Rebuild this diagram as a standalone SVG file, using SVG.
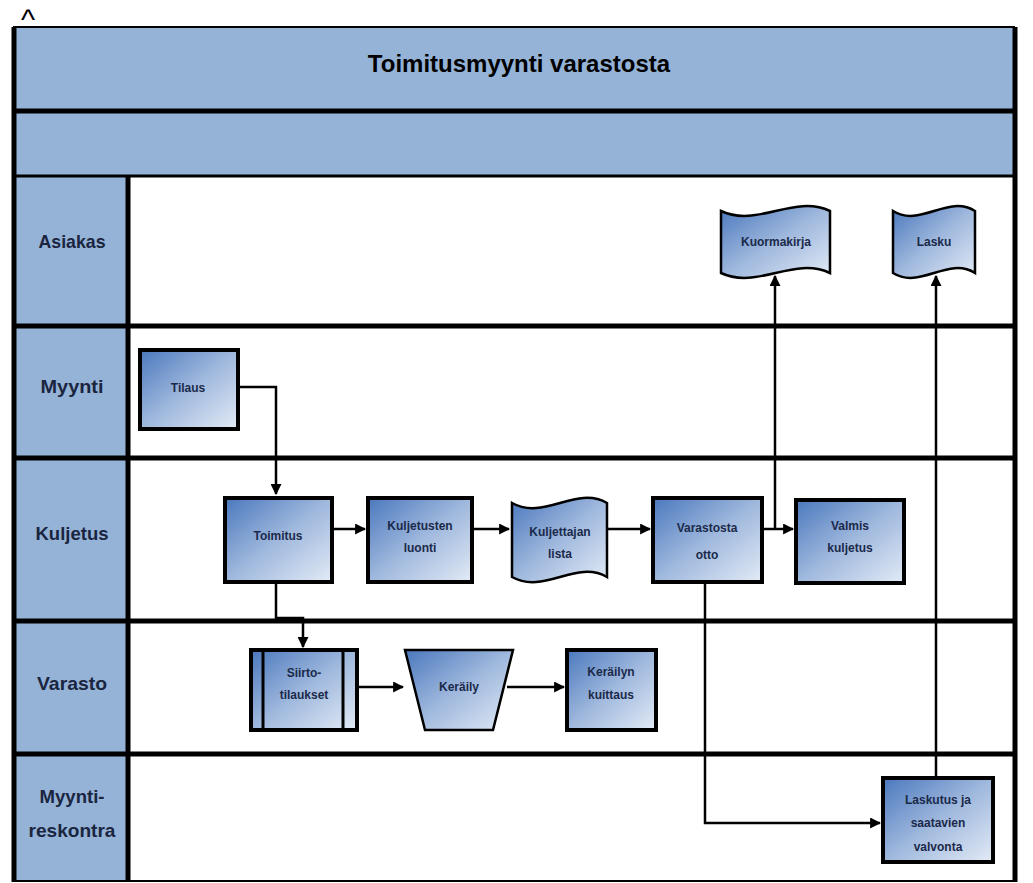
<svg xmlns="http://www.w3.org/2000/svg" width="1033" height="883" viewBox="0 0 1033 883">
<style>
.band{fill:#95b3d7}
.lane{fill:#ffffff}
.sep{stroke:#000;stroke-width:5;fill:none}
.thin{stroke:#000;stroke-width:2.5;fill:none}
.lbl{font-family:"Liberation Sans",Arial,sans-serif;font-weight:bold;font-size:19px;fill:#1a2540;text-anchor:middle}
.title{font-family:"Liberation Sans",Arial,sans-serif;font-weight:bold;font-size:24px;fill:#000;text-anchor:middle}
.node{fill:url(#ng);stroke:#000;stroke-width:4}
.doc{fill:url(#ng);stroke:#000;stroke-width:2.5}
.nt{font-family:"Liberation Sans",Arial,sans-serif;font-weight:bold;font-size:12px;fill:#1b2a4a;text-anchor:middle}
.con{stroke:#000;stroke-width:2.5;fill:none}
</style>
<defs>
<linearGradient id="ng" x1="0" y1="0" x2="1" y2="1">
<stop offset="0" stop-color="#4a78bd"/>
<stop offset="0.5" stop-color="#9fb8dd"/>
<stop offset="1" stop-color="#e3ebf6"/>
</linearGradient>
<marker id="ah" viewBox="0 0 10 10" refX="9" refY="5" markerWidth="4.4" markerHeight="4.4" orient="auto" markerUnits="strokeWidth">
<path d="M0,0 L10,5 L0,10 z" fill="#000"/>
</marker>
</defs>
<rect width="1033" height="883" fill="#ffffff"/>
<text x="28" y="30" font-family="Liberation Sans,Arial,sans-serif" font-size="30" fill="#000" text-anchor="middle">^</text>
<g id="frame">
<rect class="band" x="14" y="27" width="1001" height="83"/>
<rect class="band" x="14" y="111" width="1001" height="64"/>
<rect class="band" x="14" y="176" width="114" height="705"/>
<line x1="13" y1="27" x2="1015" y2="27" stroke="#000" stroke-width="2"/>
<line class="sep" x1="13" y1="111" x2="1015" y2="111"/>
<line x1="13" y1="176" x2="1015" y2="176" stroke="#000" stroke-width="3"/>
<line class="sep" x1="13" y1="326" x2="1015" y2="326"/>
<line class="sep" x1="13" y1="458" x2="1015" y2="458"/>
<line class="sep" x1="13" y1="621" x2="1015" y2="621"/>
<line class="sep" x1="13" y1="754" x2="1015" y2="754"/>
<line x1="13" y1="881" x2="1015" y2="881" stroke="#000" stroke-width="2"/>
<line class="sep" x1="14" y1="27" x2="14" y2="882"/>
<line class="sep" x1="128" y1="176" x2="128" y2="882"/>
<line class="sep" x1="1015" y1="27" x2="1015" y2="882"/>
</g>
<text class="title" x="519" y="72">Toimitusmyynti varastosta</text>
<g id="lanes">
<text class="lbl" x="72" y="248" textLength="67" lengthAdjust="spacingAndGlyphs">Asiakas</text>
<text class="lbl" x="72" y="393" textLength="63" lengthAdjust="spacingAndGlyphs">Myynti</text>
<text class="lbl" x="72" y="540" textLength="73" lengthAdjust="spacingAndGlyphs">Kuljetus</text>
<text class="lbl" x="72" y="690" textLength="70" lengthAdjust="spacingAndGlyphs">Varasto</text>
<text class="lbl" x="72" y="803" textLength="65" lengthAdjust="spacingAndGlyphs">Myynti-</text>
<text class="lbl" x="72" y="837" textLength="87" lengthAdjust="spacingAndGlyphs">reskontra</text>
</g>
<g id="connectors">
<path class="con" d="M238,387 H276 V494" marker-end="url(#ah)"/>
<path class="con" d="M332,529 H365" marker-end="url(#ah)"/>
<path class="con" d="M472,529 H509" marker-end="url(#ah)"/>
<path class="con" d="M607,529 H650" marker-end="url(#ah)"/>
<path class="con" d="M762,529 H793" marker-end="url(#ah)"/>
<path class="con" d="M775,529 V276" marker-end="url(#ah)"/>
<path class="con" d="M276,582 V618 H303 V647" marker-end="url(#ah)"/>
<path class="con" d="M357,687 H403" marker-end="url(#ah)"/>
<path class="con" d="M507,687 H564" marker-end="url(#ah)"/>
<path class="con" d="M705,582 V823 H880" marker-end="url(#ah)"/>
<path class="con" d="M936,778 V276" marker-end="url(#ah)"/>
</g>
<g id="tilaus">
<rect class="node" x="140" y="350" width="98" height="79"/>
<text class="nt" x="188" y="392" font-size="11">Tilaus</text>
</g>
<g id="toimitus">
<rect class="node" x="225" y="498" width="107" height="84"/>
<text class="nt" x="278" y="540" font-size="13">Toimitus</text>
</g>
<g id="kuljetusten-luonti">
<rect class="node" x="368" y="498" width="104" height="84"/>
<text class="nt" x="420" y="530">Kuljetusten</text>
<text class="nt" x="420" y="552">luonti</text>
</g>
<g id="kuljettajan-lista">
<path class="doc" d="M512,503 C544,521 576,485 607,503 V577 C576,559 544,595 512,577 Z"/>
<text class="nt" x="560" y="536">Kuljettajan</text>
<text class="nt" x="560" y="558">lista</text>
</g>
<g id="varastosta-otto">
<rect class="node" x="653" y="498" width="109" height="84"/>
<text class="nt" x="707" y="532" font-size="13">Varastosta</text>
<text class="nt" x="707" y="559" font-size="13">otto</text>
</g>
<g id="valmis-kuljetus">
<rect class="node" x="796" y="500" width="108" height="83"/>
<text class="nt" x="850" y="530">Valmis</text>
<text class="nt" x="850" y="552">kuljetus</text>
</g>
<g id="kuormakirja">
<path class="doc" d="M721,211 C757,228 794,194 830,211 V273 C794,256 757,290 721,273 Z"/>
<text class="nt" x="776" y="246" font-size="11">Kuormakirja</text>
</g>
<g id="lasku">
<path class="doc" d="M893,211 C920,228 948,194 975,211 V273 C948,256 920,290 893,273 Z"/>
<text class="nt" x="934" y="246" font-size="11">Lasku</text>
</g>
<g id="siirtotilaukset">
<rect class="node" x="251" y="650" width="106" height="80"/>
<line x1="263" y1="650" x2="263" y2="730" stroke="#000" stroke-width="3"/>
<line x1="343" y1="650" x2="343" y2="730" stroke="#000" stroke-width="3"/>
<text class="nt" x="304" y="677">Siirto-</text>
<text class="nt" x="304" y="699">tilaukset</text>
</g>
<g id="keraily">
<path class="doc" d="M405,650 H513 L493,730 H425 Z"/>
<text class="nt" x="459" y="691">Keräily</text>
</g>
<g id="kerailyn-kuittaus">
<rect class="node" x="567" y="650" width="89" height="80"/>
<text class="nt" x="611" y="676">Keräilyn</text>
<text class="nt" x="611" y="699">kuittaus</text>
</g>
<g id="laskutus">
<rect class="node" x="883" y="778" width="110" height="84"/>
<text class="nt" x="938" y="804">Laskutus ja</text>
<text class="nt" x="938" y="827">saatavien</text>
<text class="nt" x="938" y="851">valvonta</text>
</g>
</svg>
